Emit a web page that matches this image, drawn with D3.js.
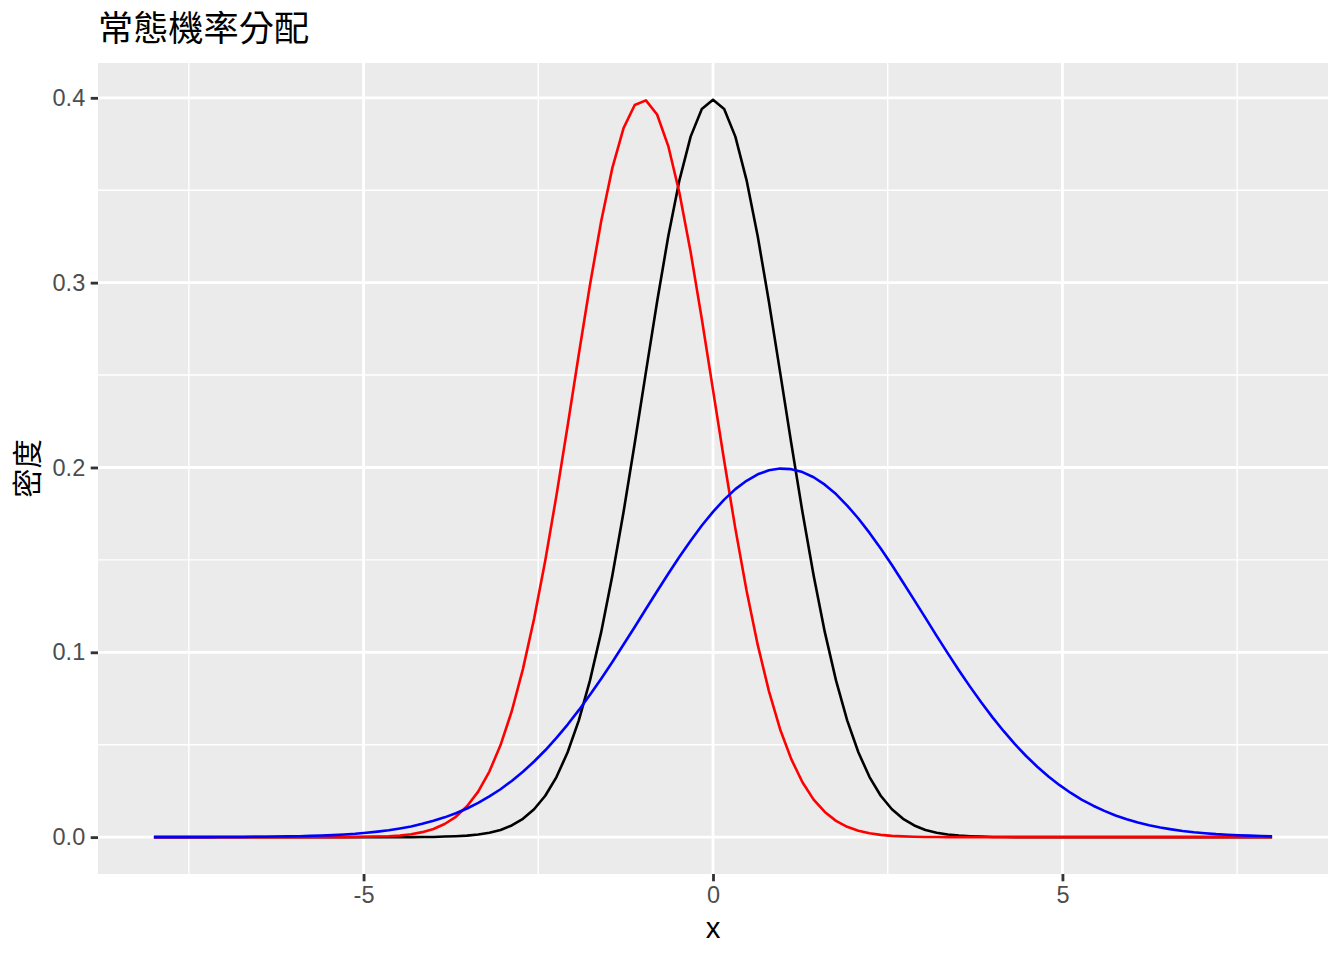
<!DOCTYPE html>
<html>
<head>
<meta charset="utf-8">
<script src="https://cdn.jsdelivr.net/npm/d3@7"></script>
<style>
  html, body { margin: 0; padding: 0; background: #ffffff; }
  svg { display: block; }
</style>
</head>
<body>
<script>
// ---- data ----
const titleText = "常態機率分配";
const xLabel = "x";
const yLabel = "密度";

const xValues = [-8,-7.84,-7.68,-7.52,-7.36,-7.2,-7.04,-6.88,-6.72,-6.56,-6.4,-6.24,-6.08,-5.92,-5.76,-5.6,-5.44,-5.28,-5.12,-4.96,-4.8,-4.64,-4.48,-4.32,-4.16,-4,-3.84,-3.68,-3.52,-3.36,-3.2,-3.04,-2.88,-2.72,-2.56,-2.4,-2.24,-2.08,-1.92,-1.76,-1.6,-1.44,-1.28,-1.12,-0.96,-0.8,-0.64,-0.48,-0.32,-0.16,0,0.16,0.32,0.48,0.64,0.8,0.96,1.12,1.28,1.44,1.6,1.76,1.92,2.08,2.24,2.4,2.56,2.72,2.88,3.04,3.2,3.36,3.52,3.68,3.84,4,4.16,4.32,4.48,4.64,4.8,4.96,5.12,5.28,5.44,5.6,5.76,5.92,6.08,6.24,6.4,6.56,6.72,6.88,7.04,7.2,7.36,7.52,7.68,7.84,8];

// N(0,1) - black
const blackValues = [0,0,0,0,0,0,0,0,0,0,0,0,0,0,0,0,0,0,0,0,0,0,0,0,
  0.0001,0.0001,0.0003,0.0005,0.0008,0.0014,0.0024,0.0039,0.0063,0.0099,0.0151,0.0224,0.0325,0.0459,0.0632,0.0848,0.1109,0.1415,0.1759,0.2131,0.2516,0.2897,0.3251,0.3555,0.3790,0.3939,
  0.3989,
  0.3939,0.3790,0.3555,0.3251,0.2897,0.2516,0.2131,0.1759,0.1415,0.1109,0.0848,0.0632,0.0459,0.0325,0.0224,0.0151,0.0099,0.0063,0.0039,0.0024,0.0014,0.0008,0.0005,0.0003,0.0001,0.0001,
  0,0,0,0,0,0,0,0,0,0,0,0,0,0,0,0,0,0,0,0,0,0,0,0];

// N(-1,1) - red
const redValues = [0,0,0,0,0,0,0,0,0,0,0,0,0,0,0,0,0,0,
  0.0001,0.0002,0.0003,0.0005,0.0009,0.0016,0.0027,0.0044,0.0071,0.0110,0.0167,0.0246,0.0355,0.0498,0.0681,0.0909,0.1182,0.1497,0.1849,0.2226,0.2613,0.2989,0.3332,0.3621,0.3836,0.3961,
  0.3986,0.3910,0.3739,0.3485,0.3166,0.2803,0.2420,0.2036,0.1669,0.1334,0.1040,0.0790,0.0584,0.0422,0.0297,0.0203,0.0136,0.0088,0.0056,0.0035,0.0021,0.0012,0.0007,0.0004,0.0002,0.0001,0.0001,
  0,0,0,0,0,0,0,0,0,0,0,0,0,0,0,0,0,0,0,0,0,0,0,0,0,0,0,0,0,0];

// N(1,2) - blue
const blueValues = [0,0,0,0,0,0,
  0.0001,0.0001,0.0001,0.0002,0.0002,0.0003,0.0004,0.0005,0.0007,0.0009,0.0011,0.0014,0.0018,0.0024,0.0030,0.0037,0.0047,0.0058,0.0072,0.0088,0.0107,0.0129,0.0155,0.0185,0.0220,0.0259,0.0304,0.0354,0.0409,0.0470,0.0537,0.0609,0.0687,0.0770,0.0857,0.0948,0.1042,0.1137,0.1234,0.1330,0.1425,0.1517,0.1604,0.1686,0.1760,0.1826,0.1883,0.1928,0.1963,0.1985,0.1994,
  0.1991,0.1975,0.1947,0.1907,0.1856,0.1794,0.1724,0.1646,0.1561,0.1472,0.1378,0.1282,0.1186,0.1089,0.0994,0.0902,0.0813,0.0728,0.0648,0.0573,0.0503,0.0439,0.0381,0.0328,0.0281,0.0239,0.0202,0.0170,0.0142,0.0117,0.0097,0.0079,0.0064,0.0052,0.0042,0.0033,0.0026,0.0021,0.0016,0.0013,0.0010,0.0008,0.0006,0.0004];

const seriesNames = ["black", "red", "blue"];
const seriesColors = ["#000000", "#FF0000", "#0000FF"];

const xTicks = [-5, 0, 5];
const xMinor = [-7.5, -2.5, 2.5, 7.5];
const yTicks = [0, 0.1, 0.2, 0.3, 0.4];
const yMinor = [0.05, 0.15, 0.25, 0.35];

// ---- layout ----
const W = 1344, H = 960;
const panel = { left: 98, right: 1328, top: 63, bottom: 874 };

const svg = d3.select("body").append("svg")
  .attr("width", W).attr("height", H)
  .attr("viewBox", `0 0 ${W} ${H}`);

const x = d3.scaleLinear().domain([-8.8, 8.8]).range([panel.left, panel.right]);
const y = d3.scaleLinear().domain([-0.01995, 0.41884]).range([panel.bottom, panel.top]);

// panel background
svg.append("rect")
  .attr("x", panel.left).attr("y", panel.top)
  .attr("width", panel.right - panel.left).attr("height", panel.bottom - panel.top)
  .attr("fill", "#EBEBEB");

const grid = svg.append("g");
// minor grid
grid.selectAll(".xminor").data(xMinor).enter().append("line")
  .attr("x1", d => x(d)).attr("x2", d => x(d))
  .attr("y1", panel.top).attr("y2", panel.bottom)
  .attr("stroke", "#ffffff").attr("stroke-width", 1.42);
grid.selectAll(".yminor").data(yMinor).enter().append("line")
  .attr("y1", d => y(d)).attr("y2", d => y(d))
  .attr("x1", panel.left).attr("x2", panel.right)
  .attr("stroke", "#ffffff").attr("stroke-width", 1.42);
// major grid
grid.selectAll(".xmajor").data(xTicks).enter().append("line")
  .attr("x1", d => x(d)).attr("x2", d => x(d))
  .attr("y1", panel.top).attr("y2", panel.bottom)
  .attr("stroke", "#ffffff").attr("stroke-width", 2.84);
grid.selectAll(".ymajor").data(yTicks).enter().append("line")
  .attr("y1", d => y(d)).attr("y2", d => y(d))
  .attr("x1", panel.left).attr("x2", panel.right)
  .attr("stroke", "#ffffff").attr("stroke-width", 2.84);

// curves
const allSeries = [blackValues, redValues, blueValues];
const line = d3.line().x((d, i) => x(xValues[i])).y(d => y(d));
svg.append("g").selectAll("path").data(allSeries).enter().append("path")
  .attr("d", d => line(d))
  .attr("fill", "none")
  .attr("stroke", (d, i) => seriesColors[i])
  .attr("stroke-width", 2.6)
  .attr("stroke-linejoin", "round");

// axes
const axisFont = "'Liberation Sans', Arial, Helvetica, sans-serif";
const xAxis = svg.append("g")
  .attr("transform", `translate(0,${panel.bottom})`)
  .call(d3.axisBottom(x).tickValues(xTicks).tickFormat(d3.format("d")).tickSize(7.3).tickPadding(5.5));
const yAxis = svg.append("g")
  .attr("transform", `translate(${panel.left},0)`)
  .call(d3.axisLeft(y).tickValues(yTicks).tickFormat(d3.format(".1f")).tickSize(7.3).tickPadding(5.5));

[xAxis, yAxis].forEach(a => {
  a.select(".domain").remove();
  a.selectAll(".tick line").attr("stroke", "#333333").attr("stroke-width", 2.84);
  a.selectAll(".tick text")
    .attr("fill", "#4D4D4D")
    .style("font-family", axisFont)
    .style("font-size", "23.5px");
});
xAxis.selectAll(".tick text").text(d => d < 0 ? "-" + Math.abs(d) : String(d));

// axis titles
svg.append("text")
  .attr("x", (panel.left + panel.right) / 2)
  .attr("y", 938)
  .attr("text-anchor", "middle")
  .style("font-family", axisFont)
  .style("font-size", "29.3px")
  .attr("fill", "#000000")
  .text(xLabel);

svg.append("text")
  .attr("transform", `translate(38,${(panel.top + panel.bottom) / 2}) rotate(-90)`)
  .attr("text-anchor", "middle")
  .style("font-family", "'Noto Sans CJK TC', 'Noto Sans CJK SC', sans-serif")
  .style("font-size", "29.3px")
  .attr("fill", "#000000")
  .text(yLabel);

// title
svg.append("text")
  .attr("x", 98)
  .attr("y", 41)
  .style("font-family", "'Noto Sans CJK TC', 'Noto Sans CJK SC', sans-serif")
  .style("font-size", "35.2px")
  .attr("fill", "#000000")
  .text(titleText);
</script>
</body>
</html>
